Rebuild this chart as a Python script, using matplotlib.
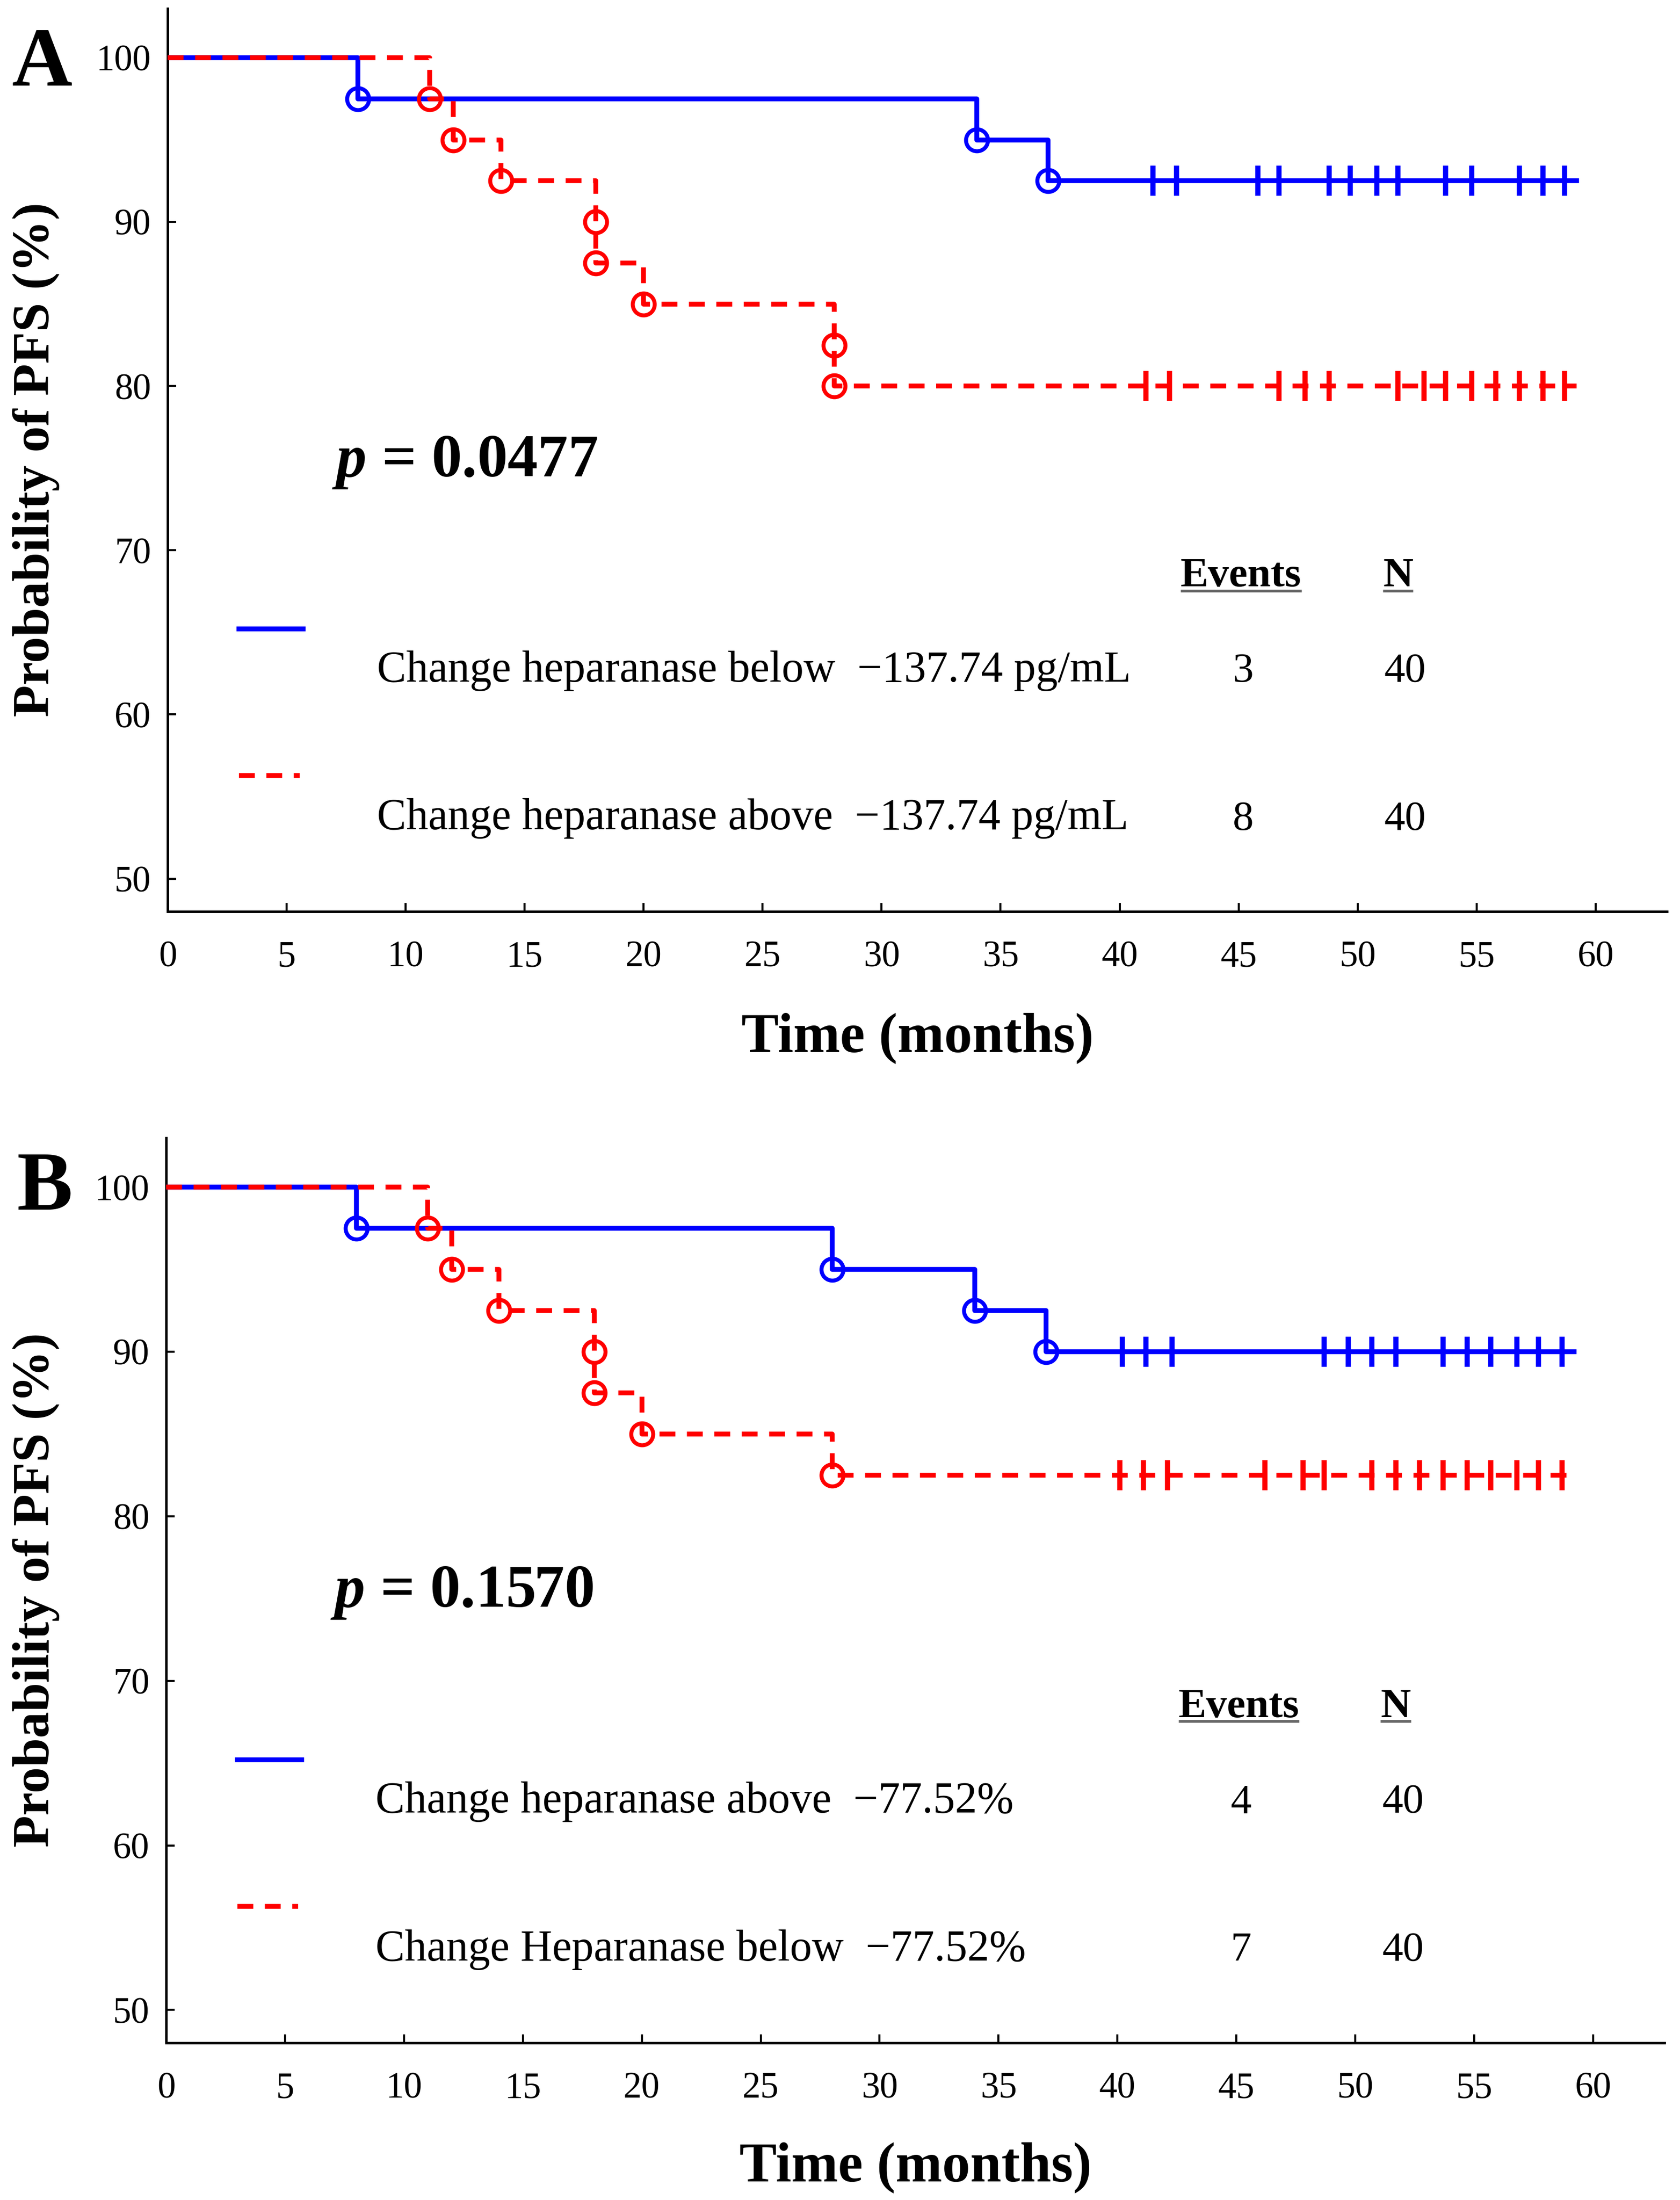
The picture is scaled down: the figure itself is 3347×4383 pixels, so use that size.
# Kaplan-Meier PFS curves, panels A and B
import matplotlib
matplotlib.use('Agg')
import matplotlib.pyplot as plt

# ---- data ----
END_TIME = 59.2

# panel A: cut-off on absolute change (pg/mL)
a_blue_times = [8, 34, 37]
a_blue_surv = [97.5, 95.0, 92.5]
a_blue_censor = [41.4, 42.4, 45.8, 46.7, 48.8, 49.7, 50.8, 51.7, 53.7, 54.8, 56.8, 57.8, 58.7]
a_red_times = [11, 12, 14, 18, 18, 20, 28, 28]
a_red_surv = [97.5, 95.0, 92.5, 90.0, 87.5, 85.0, 82.5, 80.0]
a_red_censor = [41.1, 42.1, 46.7, 47.8, 48.8, 51.7, 52.8, 53.7, 54.8, 55.8, 56.8, 57.8, 58.7]
a_p = "0.0477"
a_labels = ["Change heparanase below  \u2212137.74 pg/mL", "Change heparanase above  \u2212137.74 pg/mL"]
a_events = [3, 8]
a_n = [40, 40]

# panel B: cut-off on relative change (%)
b_blue_times = [8, 28, 34, 37]
b_blue_surv = [97.5, 95.0, 92.5, 90.0]
b_blue_censor = [40.2, 41.2, 42.3, 48.7, 49.7, 50.7, 51.7, 53.7, 54.7, 55.7, 56.8, 57.7, 58.7]
b_red_times = [11, 12, 14, 18, 18, 20, 28]
b_red_surv = [97.5, 95.0, 92.5, 90.0, 87.5, 85.0, 82.5]
b_red_censor = [40.1, 41.1, 42.1, 46.2, 47.8, 48.7, 50.7, 51.7, 52.7, 53.7, 54.7, 55.7, 56.8, 57.7, 58.7]
b_p = "0.1570"
b_labels = ["Change heparanase above  \u221277.52%", "Change Heparanase below  \u221277.52%"]
b_events = [4, 7]
b_n = [40, 40]

x_ticks = list(range(0, 61, 5))
y_ticks = list(range(50, 101, 10))

# ---- style ----
W, H, DPI = 3347, 4383, 300
BLUE = '#0000ff'
RED = '#ff0000'
DASH = (0, (3.3, 2.4))

plt.rcParams['font.family'] = ['Liberation Serif', 'DejaVu Serif']
plt.rcParams['mathtext.fontset'] = 'custom'
plt.rcParams['mathtext.it'] = 'Liberation Serif:italic:bold'
plt.rcParams['mathtext.rm'] = 'Liberation Serif:bold'


def px_box(l, t, r, b):
    return [l / W, 1 - b / H, (r - l) / W, (b - t) / H]


fig = plt.figure(figsize=(W / DPI, H / DPI), dpi=DPI)
fig.patch.set_facecolor('white')


def km_curve(ax, times, surv, censor, color, ls, z):
    x = [0] + list(times) + [END_TIME]
    y = [100] + list(surv) + [surv[-1]]
    ax.plot(x, y, drawstyle='steps-post', color=color, lw=2.3, ls=ls, zorder=z)
    ax.plot(times, surv, 'o', mfc='none', mec=color, ms=10.5, mew=1.9, zorder=z + 0.5)
    ax.plot(censor, [surv[-1]] * len(censor), '|', color=color, ms=14.5, mew=2.5, zorder=z + 0.5)


def draw_panel(ax, blue, red, p_val, labels, events, n):
    km_curve(ax, *blue, BLUE, '-', 3)
    km_curve(ax, *red, RED, DASH, 4)

    ax.set_xlim(0, 63)
    ax.set_ylim(48, 103)
    ax.set_xticks(x_ticks)
    ax.set_yticks(y_ticks)
    for s in ['top', 'right']:
        ax.spines[s].set_visible(False)
    for s in ['left', 'bottom']:
        ax.spines[s].set_linewidth(1.2)
    ax.tick_params(axis='both', direction='in', length=4, width=1.0, labelsize=17.5)
    ax.tick_params(axis='x', pad=14)
    ax.tick_params(axis='y', pad=8)

    ax.text(6.9, 74.5, r'$p$ = ' + p_val, fontsize=29, fontweight='bold', va='baseline')

    # legend block
    ax.plot([3.0, 5.7], [65.2, 65.2], color=BLUE, lw=2.3)
    ax.plot([3.0, 5.55], [56.3, 56.3], color=RED, lw=2.3, ls=DASH)
    heads = [ax.text(45.1, 67.8, 'Events', fontsize=20, fontweight='bold', ha='center', va='baseline'),
             ax.text(51.7, 67.8, 'N', fontsize=20, fontweight='bold', ha='center', va='baseline')]
    for lab, ev, nn, yb in zip(labels, events, n, [62.0, 53.0]):
        ax.text(8.8, yb, lab, fontsize=21, va='baseline')
        ax.text(45.2, yb, str(ev), fontsize=20, ha='center', va='baseline')
        ax.text(52.0, yb, str(nn), fontsize=20, ha='center', va='baseline')
    return heads


axA = fig.add_axes(px_box(334, 17, 3321, 1816))
axB = fig.add_axes(px_box(331, 2267, 3316, 4070))

heads_a = draw_panel(axA, (a_blue_times, a_blue_surv, a_blue_censor),
                     (a_red_times, a_red_surv, a_red_censor), a_p, a_labels, a_events, a_n)
heads_b = draw_panel(axB, (b_blue_times, b_blue_surv, b_blue_censor),
                     (b_red_times, b_red_surv, b_red_censor), b_p, b_labels, b_events, b_n)

# axis titles and panel letters
for ax, cy, xl_base, letter, lx, lbase in [(axA, 916, 2095, 'A', 84, 171),
                                           (axB, 3168, 4345, 'B', 89, 2410)]:
    fig.text(72 / W, 1 - cy / H, 'Probability of PFS (%)', rotation=90, fontsize=25,
             fontweight='bold', ha='center', va='center')
    bb = ax.get_position()
    fig.text((bb.x0 + bb.x1) / 2, 1 - xl_base / H, 'Time (months)', fontsize=26.8,
             fontweight='bold', ha='center', va='baseline')
    fig.text(lx / W, 1 - lbase / H, letter, fontsize=40, fontweight='bold',
             ha='center', va='baseline')

# underline the table headers
fig.canvas.draw()
for ax, heads in [(axA, heads_a), (axB, heads_b)]:
    inv = ax.transData.inverted()
    for t in heads:
        ext = t.get_window_extent()
        x0 = inv.transform((ext.x0, ext.y0))[0]
        x1 = inv.transform((ext.x1, ext.y0))[0]
        ax.plot([x0, x1], [67.55, 67.55], color='#666666', lw=1.3, solid_capstyle='butt')

fig.savefig('out.png', dpi=DPI, facecolor='white')
